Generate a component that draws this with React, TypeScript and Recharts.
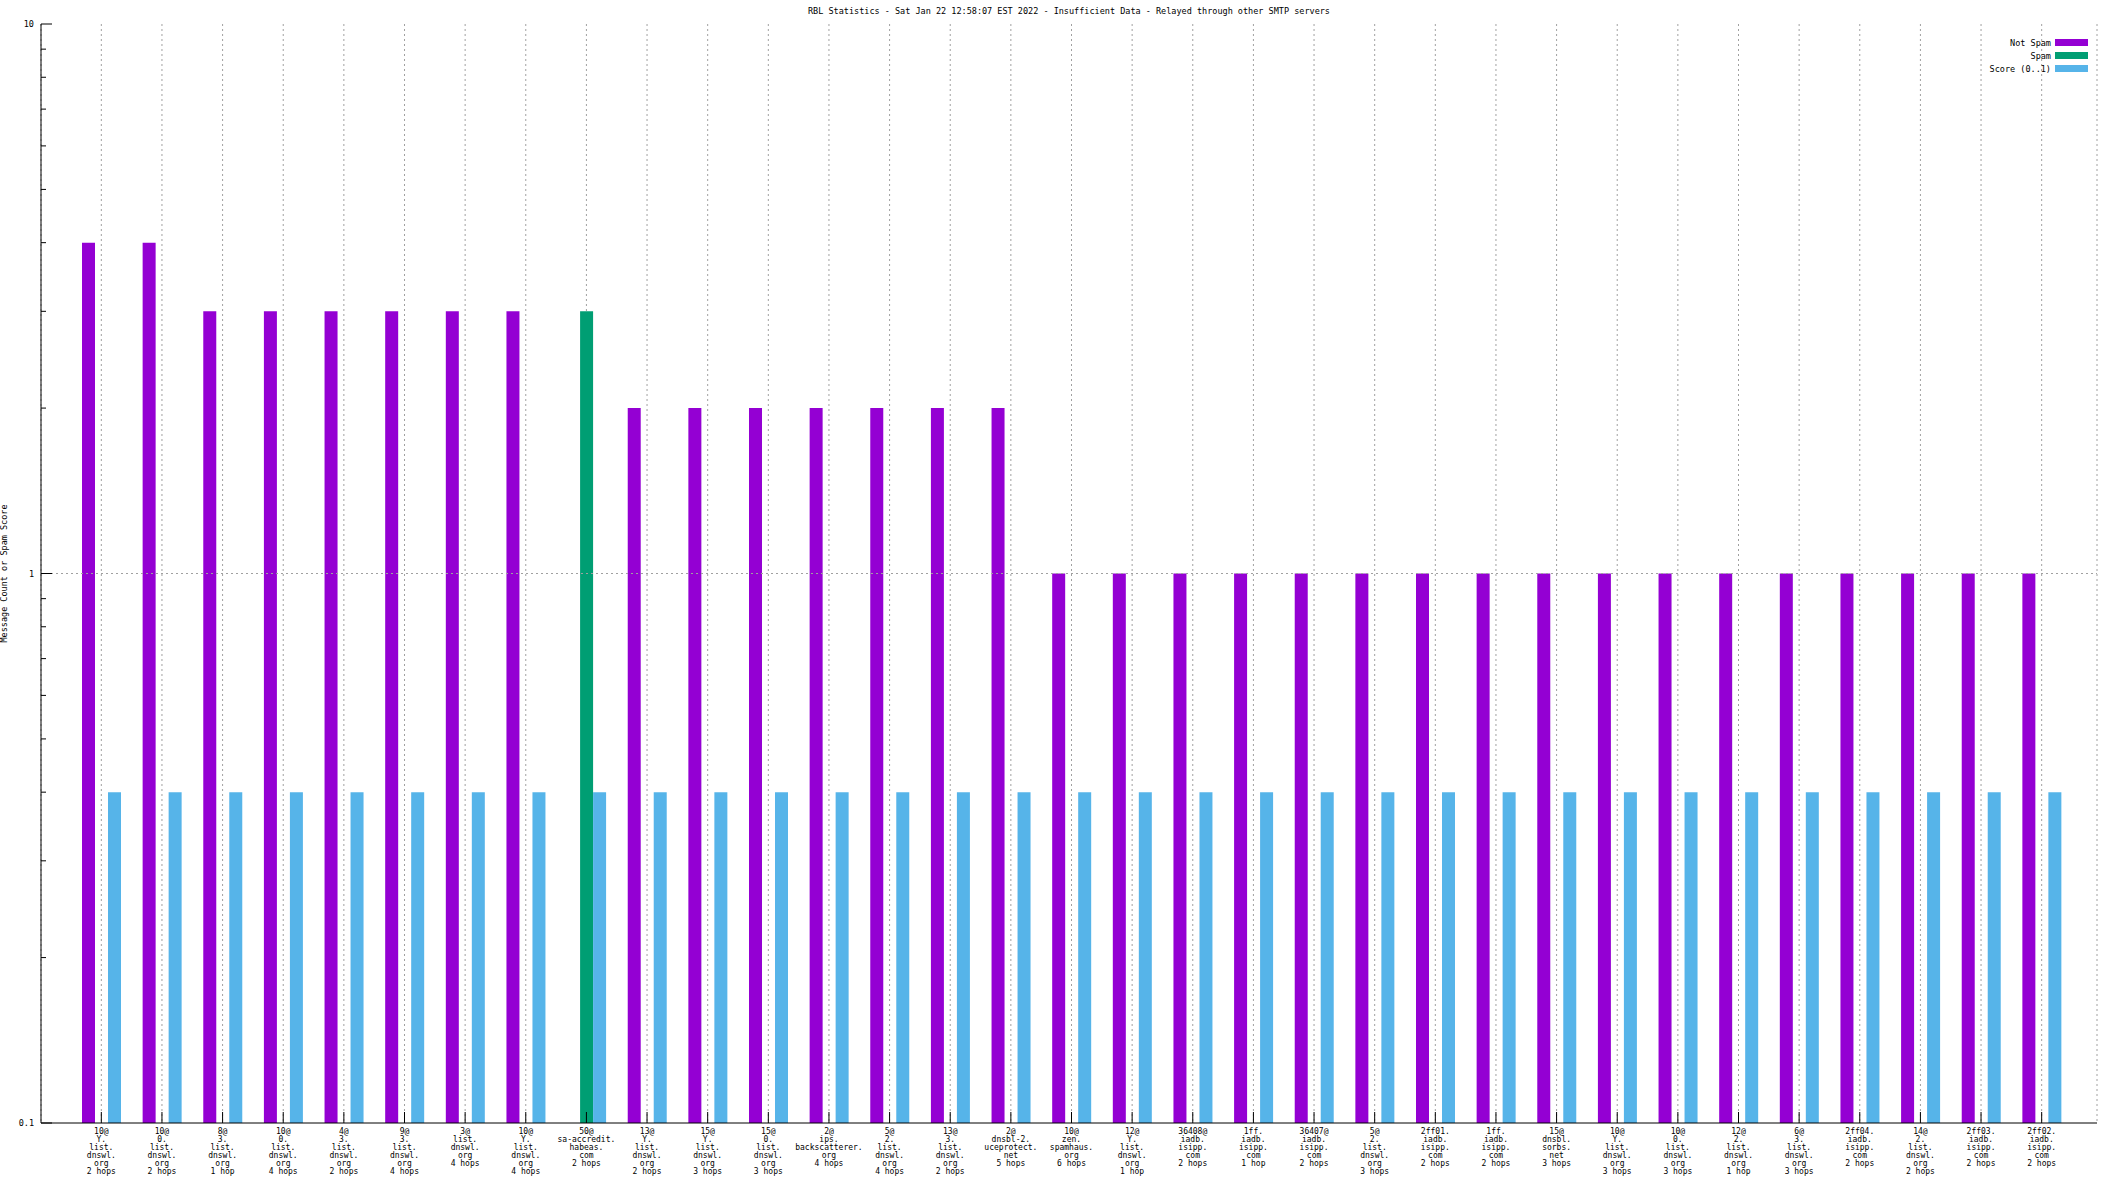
import React from 'react';
import { BarChart, Bar, XAxis, YAxis, CartesianGrid, ReferenceLine, Legend } from 'recharts';

const categories = [
  '10@\nY.\nlist.\ndnswl.\norg\n2 hops',
  '10@\n0.\nlist.\ndnswl.\norg\n2 hops',
  '8@\n3.\nlist.\ndnswl.\norg\n1 hop',
  '10@\n0.\nlist.\ndnswl.\norg\n4 hops',
  '4@\n3.\nlist.\ndnswl.\norg\n2 hops',
  '9@\n3.\nlist.\ndnswl.\norg\n4 hops',
  '3@\nlist.\ndnswl.\norg\n4 hops',
  '10@\nY.\nlist.\ndnswl.\norg\n4 hops',
  '50@\nsa-accredit.\nhabeas.\ncom\n2 hops',
  '13@\nY.\nlist.\ndnswl.\norg\n2 hops',
  '15@\nY.\nlist.\ndnswl.\norg\n3 hops',
  '15@\n0.\nlist.\ndnswl.\norg\n3 hops',
  '2@\nips.\nbackscatterer.\norg\n4 hops',
  '5@\n2.\nlist.\ndnswl.\norg\n4 hops',
  '13@\n3.\nlist.\ndnswl.\norg\n2 hops',
  '2@\ndnsbl-2.\nuceprotect.\nnet\n5 hops',
  '10@\nzen.\nspamhaus.\norg\n6 hops',
  '12@\nY.\nlist.\ndnswl.\norg\n1 hop',
  '36408@\niadb.\nisipp.\ncom\n2 hops',
  '1ff.\niadb.\nisipp.\ncom\n1 hop',
  '36407@\niadb.\nisipp.\ncom\n2 hops',
  '5@\n2.\nlist.\ndnswl.\norg\n3 hops',
  '2ff01.\niadb.\nisipp.\ncom\n2 hops',
  '1ff.\niadb.\nisipp.\ncom\n2 hops',
  '15@\ndnsbl.\nsorbs.\nnet\n3 hops',
  '10@\nY.\nlist.\ndnswl.\norg\n3 hops',
  '10@\n0.\nlist.\ndnswl.\norg\n3 hops',
  '12@\n2.\nlist.\ndnswl.\norg\n1 hop',
  '6@\n3.\nlist.\ndnswl.\norg\n3 hops',
  '2ff04.\niadb.\nisipp.\ncom\n2 hops',
  '14@\n2.\nlist.\ndnswl.\norg\n2 hops',
  '2ff03.\niadb.\nisipp.\ncom\n2 hops',
  '2ff02.\niadb.\nisipp.\ncom\n2 hops',
];

const notSpam = [4, 4, 3, 3, 3, 3, 3, 3, null, 2, 2, 2, 2, 2, 2, 2, 1, 1, 1, 1, 1, 1, 1, 1, 1, 1, 1, 1, 1, 1, 1, 1, 1];
const spam = [null, null, null, null, null, null, null, null, 3, null, null, null, null, null, null, null, null, null, null, null, null, null, null, null, null, null, null, null, null, null, null, null, null];
const score = [0.4, 0.4, 0.4, 0.4, 0.4, 0.4, 0.4, 0.4, 0.4, 0.4, 0.4, 0.4, 0.4, 0.4, 0.4, 0.4, 0.4, 0.4, 0.4, 0.4, 0.4, 0.4, 0.4, 0.4, 0.4, 0.4, 0.4, 0.4, 0.4, 0.4, 0.4, 0.4, 0.4];

const yTicks = [0.1, 0.2, 0.3, 0.4, 0.5, 0.6, 0.7, 0.8, 0.9, 1, 2, 3, 4, 5, 6, 7, 8, 9, 10];
const majorTicks = [0.1, 1, 10];

const seriesNames = ['Not Spam', 'Spam', 'Score (0..1)'];

const title = 'RBL Statistics - Sat Jan 22 12:58:07 EST 2022 - Insufficient Data - Relayed through other SMTP servers';

const FONT = '"DejaVu Sans Mono", monospace';

const data = categories.map((name, i) => ({
  name,
  notSpam: notSpam[i],
  spam: spam[i],
  score: score[i],
}));

// tick marks point into the plot, like gnuplot
const BottomTick = (props: any) => {
  const { x, y, payload } = props;
  const lines = String(payload.value).split('\n');
  return (
    <g>
      <line x1={x} x2={x} y1={y} y2={y - 11} stroke="#000" />
      <text x={x} y={y + 11} textAnchor="middle" fontFamily={FONT} fontSize={8} fill="#000">
        {lines.map((l, i) => (
          <tspan key={i} x={x} dy={i === 0 ? 0 : 8}>{l}</tspan>
        ))}
      </text>
    </g>
  );
};

const TopTick = (props: any) => {
  const { x, y } = props;
  return <line x1={x} x2={x} y1={y} y2={y + 11} stroke="#000" />;
};

const LeftTick = (props: any) => {
  const { x, y, payload } = props;
  const major = majorTicks.includes(payload.value);
  return (
    <g>
      <line x1={x} x2={x + (major ? 11 : 5)} y1={y} y2={y} stroke="#000" />
      {major && (
        <text x={x - 7} y={y + 3} textAnchor="end" fontFamily={FONT} fontSize={8.5} fill="#000">
          {payload.value}
        </text>
      )}
    </g>
  );
};

const RightTick = (props: any) => {
  const { x, y, payload } = props;
  const major = majorTicks.includes(payload.value);
  return <line x1={x} x2={x - (major ? 11 : 5)} y1={y} y2={y} stroke="#000" />;
};

const LegendBox = (props: any) => {
  const items = [...(props.payload || [])].sort(
    (a: any, b: any) => seriesNames.indexOf(a.value) - seriesNames.indexOf(b.value)
  );
  return (
    <div style={{ fontFamily: FONT, fontSize: 8.5, color: '#000' }}>
      {items.map((p: any) => (
        <div key={p.value} style={{ display: 'flex', justifyContent: 'flex-end', alignItems: 'center', height: 13 }}>
          <span style={{ marginRight: 4, whiteSpace: 'pre' }}>{p.value}</span>
          <span style={{ display: 'inline-block', width: 33, height: 7, background: p.color }} />
        </div>
      ))}
    </div>
  );
};

export default function App() {
  return (
    <div style={{ position: 'fixed', left: 0, top: 0, width: 2112, height: 1188, background: '#fff' }}>
      <div
        style={{
          position: 'absolute',
          top: 6,
          left: 41,
          width: 2056,
          textAlign: 'center',
          fontFamily: FONT,
          fontSize: 8.5,
          color: '#000',
          whiteSpace: 'pre',
        }}
      >
        {title}
      </div>
      <BarChart
        width={2112}
        height={1188}
        data={data}
        margin={{ top: 24, right: 15, bottom: 0, left: 0 }}
        barSize={13}
        barGap={0}
      >
        <CartesianGrid xAxisId="b" yAxisId="l" horizontal={false} stroke="#a0a0a0" strokeDasharray="2 3" />
        <ReferenceLine xAxisId="b" yAxisId="l" y={1} stroke="#a0a0a0" strokeDasharray="2 3" />
        <XAxis
          xAxisId="b"
          dataKey="name"
          orientation="bottom"
          height={65}
          interval={0}
          padding={{ left: 30, right: 25 }}
          tickSize={0}
          tickMargin={0}
          tickLine={false}
          axisLine={{ stroke: '#000' }}
          tick={<BottomTick />}
        />
        <XAxis
          xAxisId="t"
          dataKey="name"
          orientation="top"
          height={0}
          interval={0}
          padding={{ left: 30, right: 25 }}
          tickSize={0}
          tickMargin={0}
          tickLine={false}
          axisLine={{ stroke: '#000' }}
          tick={<TopTick />}
        />
        <YAxis
          yAxisId="l"
          orientation="left"
          width={41}
          scale="log"
          domain={[0.1, 10]}
          allowDataOverflow
          ticks={yTicks}
          interval={0}
          tickSize={0}
          tickMargin={0}
          tickLine={false}
          axisLine={{ stroke: '#000' }}
          tick={<LeftTick />}
          label={{
            value: 'Message Count or Spam Score',
            angle: -90,
            position: 'insideLeft',
            offset: 4,
            style: { fontFamily: FONT, fontSize: 8.5, fill: '#000', textAnchor: 'middle' },
          }}
        />
        <YAxis
          yAxisId="r"
          orientation="right"
          width={0}
          scale="log"
          domain={[0.1, 10]}
          allowDataOverflow
          ticks={yTicks}
          interval={0}
          tickSize={0}
          tickMargin={0}
          tickLine={false}
          axisLine={{ stroke: '#000' }}
          tick={<RightTick />}
        />
        <Legend
          layout="vertical"
          align="center"
          verticalAlign="middle"
          wrapperStyle={{ top: 36, right: 24, left: 'auto', width: 'auto' }}
          content={<LegendBox />}
        />
        <Bar xAxisId="b" yAxisId="l" dataKey="notSpam" name="Not Spam" fill="#9400d3" isAnimationActive={false} />
        <Bar xAxisId="b" yAxisId="l" dataKey="spam" name="Spam" fill="#009e73" isAnimationActive={false} />
        <Bar xAxisId="b" yAxisId="l" dataKey="score" name="Score (0..1)" fill="#56b4e9" isAnimationActive={false} />
      </BarChart>
    </div>
  );
}
